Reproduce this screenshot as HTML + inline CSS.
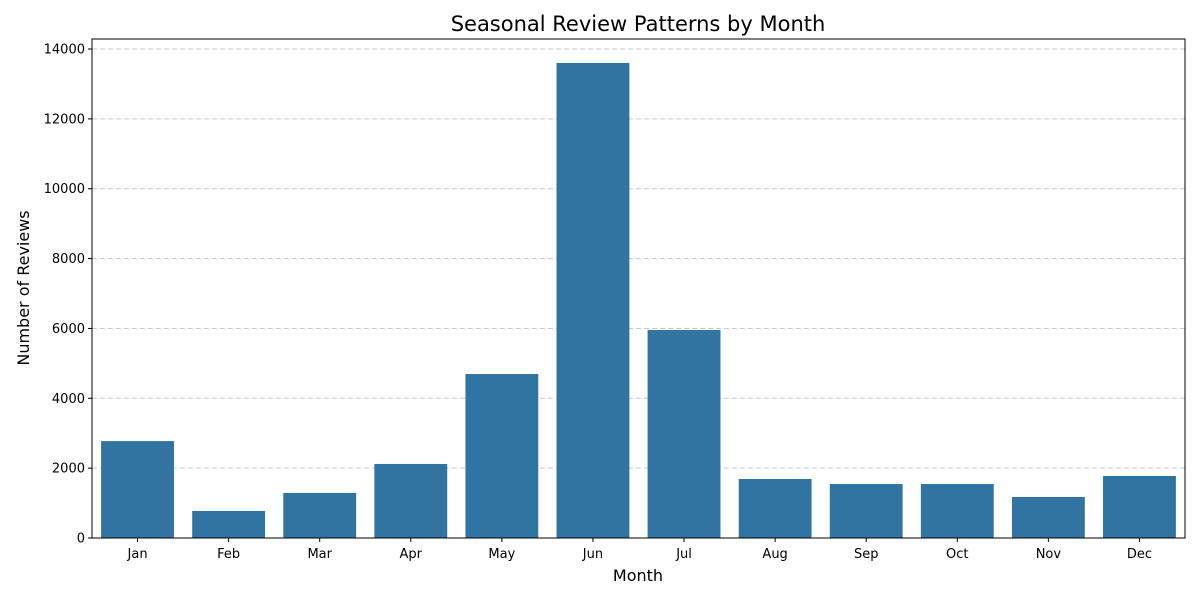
<!DOCTYPE html>
<html><head><meta charset="utf-8">
<style>
body{margin:0;background:#fff;font-family:"Liberation Sans","DejaVu Sans",sans-serif;}
svg text{font-family:"DejaVu Sans","Liberation Sans",sans-serif;}
</style></head>
<body>
<svg id="chart" width="1200" height="600" xmlns="http://www.w3.org/2000/svg">
<rect width="1200" height="600" fill="#fff"/>
<text x="638" y="31" font-size="21" text-anchor="middle" fill="#000">Seasonal Review Patterns by Month</text>
<text x="638" y="581" font-size="16" text-anchor="middle" fill="#000">Month</text>
<text transform="translate(29,288) rotate(-90)" font-size="16" text-anchor="middle" fill="#000">Number of Reviews</text>
<g id="grid"></g>
<g id="bars"></g>
<g id="xticks"></g>
<g id="yticks"></g>
<rect x="92" y="39" width="1093" height="499" fill="none" stroke="#000" stroke-width="1"/>
</svg>
<script>
const months = ["Jan","Feb","Mar","Apr","May","Jun","Jul","Aug","Sep","Oct","Nov","Dec"];
const reviews = [2775, 775, 1290, 2120, 4695, 13600, 5955, 1690, 1545, 1545, 1175, 1775];
const yTicks = [0, 2000, 4000, 6000, 8000, 10000, 12000, 14000];

const L=92, R=1185, T=39, B=538, YMAX=14287;
const NS="http://www.w3.org/2000/svg";
const band=(R-L)/months.length;
function xPos(i){return L+band*i+band/2;}
function yPos(v){return B-(v/YMAX)*(B-T);}
function mk(tag,attrs,parent){const e=document.createElementNS(NS,tag);for(const k in attrs)e.setAttribute(k,attrs[k]);parent.appendChild(e);return e;}

const grid=document.getElementById('grid'), bars=document.getElementById('bars'),
xt=document.getElementById('xticks'), yt=document.getElementById('yticks');

yTicks.forEach(v=>{
  const y=yPos(v);
  if(v>0){
    const g=mk('line',{x1:L,x2:R,y1:y,y2:y,stroke:'#c8c8c8','stroke-dasharray':'5,3','stroke-width':1},grid);
    
    
  }
  const t=mk('line',{x1:L-4,x2:L,y1:y,y2:y,stroke:'#000'},yt);
  
  
  const lab=mk('text',{x:L-7,y:y+4.5,'font-size':13,'text-anchor':'end',fill:'#000'},yt);
  lab.textContent=v;
  
  
});

months.forEach((m,i)=>{
  const cx=xPos(i), w=band*0.8, y=yPos(reviews[i]);
  const r=mk('rect',{x:cx-w/2,y:y,width:w,height:B-y,fill:'#3274a1'},bars);
  
  
  const t=mk('line',{x1:cx,x2:cx,y1:B,y2:B+4,stroke:'#000'},xt);
  
  
  const lab=mk('text',{x:cx,y:B+20,'font-size':13,'text-anchor':'middle',fill:'#000'},xt);
  lab.textContent=m;
  
  
});
</script>
</body></html>
